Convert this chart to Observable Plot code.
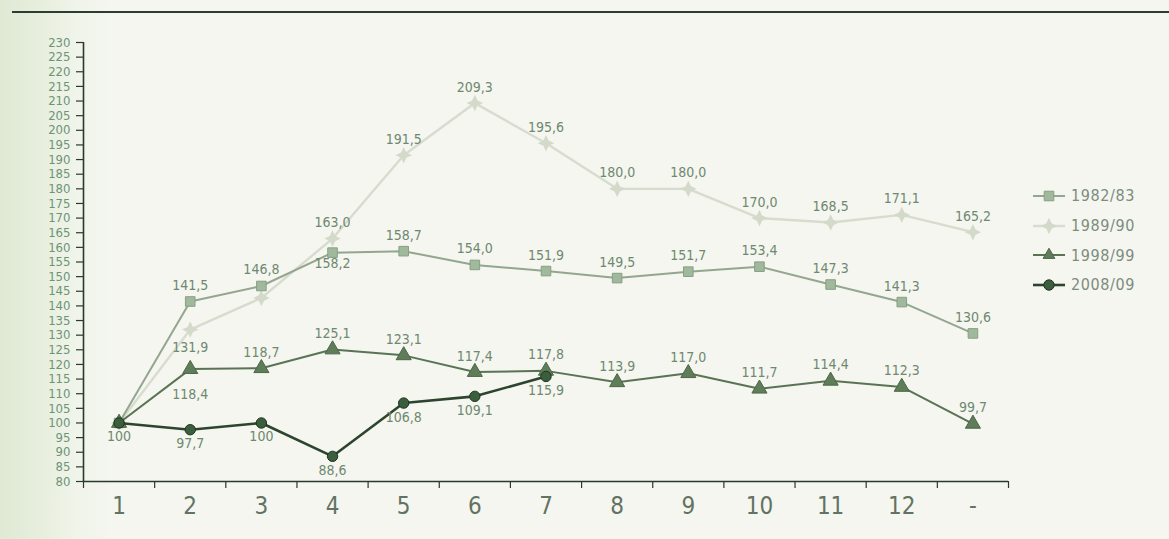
<!DOCTYPE html>
<html>
<head>
<meta charset="utf-8">
<script src="https://cdn.jsdelivr.net/npm/d3@7"></script>
<script src="https://cdn.jsdelivr.net/npm/@observablehq/plot@0.6"></script>
<style>
  html, body { margin: 0; padding: 0; }
  body {
    width: 1169px; height: 539px; overflow: hidden;
    background: linear-gradient(to right, #dfe9d3 0px, #e8efdf 45px, #f0f4e9 75px, #f4f6ef 110px, #f5f6f0 100%);
    font-family: "Liberation Sans Narrow", "DejaVu Sans Condensed", "Liberation Sans", sans-serif;
  }
  #wrap { position: relative; width: 1169px; height: 539px; }
  #topline { position: absolute; left: 12px; right: 0; top: 11px; height: 2px; background: #2f3c31; }
  #chart { position: absolute; left: 0; top: 0; }
  #legend { position: absolute; left: 1031px; top: 181px; }
  .item { display: flex; align-items: center; height: 29.7px; }
  .item span { font-size: 16px; letter-spacing: 0.6px; color: #7d8c7d; margin-left: 4px; }
</style>
</head>
<body>
<div id="wrap">
  <div id="topline"></div>
  <div id="chart"></div>
  <div id="legend"></div>
</div>
<script>
// ---- data ----
const categories = ["1", "2", "3", "4", "5", "6", "7", "8", "9", "10", "11", "12", "-"];
const seriesNames = ["1982/83", "1989/90", "1998/99", "2008/09"];
const values8283 = [100, 141.5, 146.8, 158.2, 158.7, 154.0, 151.9, 149.5, 151.7, 153.4, 147.3, 141.3, 130.6];
const values8990 = [100, 131.9, 142.7, 163.0, 191.5, 209.3, 195.6, 180.0, 180.0, 170.0, 168.5, 171.1, 165.2];
const values9899 = [100, 118.4, 118.7, 125.1, 123.1, 117.4, 117.8, 113.9, 117.0, 111.7, 114.4, 112.3, 99.7];
const values0809 = [100, 97.7, 100, 88.6, 106.8, 109.1, 115.9];
const labels8283 = [null, "141,5", "146,8", "158,2", "158,7", "154,0", "151,9", "149,5", "151,7", "153,4", "147,3", "141,3", "130,6"];
const labels8990 = [null, "131,9", null, "163,0", "191,5", "209,3", "195,6", "180,0", "180,0", "170,0", "168,5", "171,1", "165,2"];
const labels9899 = [null, "118,4", "118,7", "125,1", "123,1", "117,4", "117,8", "113,9", "117,0", "111,7", "114,4", "112,3", "99,7"];
const labels0809 = ["100", "97,7", "100", "88,6", "106,8", "109,1", "115,9"];
const yTicks = d3.range(80, 231, 5);

// ---- styling / placement ----
const allValues = [values8283, values8990, values9899, values0809];
const allLabels = [labels8283, labels8990, labels9899, labels0809];

const sparkle = {
  draw(ctx, size) {
    const r = Math.sqrt(size) * 0.62, q = r * 0.32;
    ctx.moveTo(0, -r); ctx.lineTo(q, -q); ctx.lineTo(r, 0); ctx.lineTo(q, q);
    ctx.lineTo(0, r); ctx.lineTo(-q, q); ctx.lineTo(-r, 0); ctx.lineTo(-q, -q); ctx.closePath();
  }
};
const styles = {
  "1982/83": {line: "#93a68f", lw: 2, symbol: "square", r: 5.4, fill: "#a0b99c", stroke: "#879f83"},
  "1989/90": {line: "#d7dccf", lw: 2.4, symbol: sparkle, r: 7.5, fill: "#d3dac9", stroke: "none"},
  "1998/99": {line: "#5a7355", lw: 2, symbol: "triangle", r: 5.6, fill: "#5f7d59", stroke: "#4c6647"},
  "2008/09": {line: "#2d452f", lw: 2.6, symbol: "circle", r: 5.2, fill: "#3b5e3c", stroke: "#1f3420"}
};
// labels placed below the point (others above); default offsets
const belowKeys = new Set(["1982/83|3", "1989/90|1", "1998/99|1"]);
const dyOverride = {"1998/99|1": 25, "1982/83|3": 11, "1989/90|1": 18};
const dark = "#2b382d";
const labelColor = "#6f8870";

const rows = [];
seriesNames.forEach((s, k) => {
  allValues[k].forEach((v, i) => rows.push({series: s, i, value: v, label: allLabels[k][i]}));
});

function dyFor(d) {
  const key = d.series + "|" + d.i;
  if (dyOverride[key] !== undefined) return dyOverride[key];
  if (d.series === "2008/09") return 14;
  return belowKeys.has(key) ? 15 : -16;
}
const labelled = rows.filter(d => d.label);
const dyGroups = d3.group(labelled, dyFor);

const marks = [
  Plot.axisY(yTicks, {label: null, tickSize: 7, stroke: dark, strokeWidth: 1.2, tickFormat: () => ""}),
  Plot.axisY(yTicks, {label: null, tickSize: 0, tickPadding: 13, fill: "#6c9479", fontSize: 13, letterSpacing: 0.3, tickFormat: d => String(d)}),
  Plot.axisX(d3.range(-0.5, categories.length), {label: null, tickSize: 7, stroke: dark, strokeWidth: 1.2, tickFormat: () => ""}),
  Plot.axisX(d3.range(categories.length), {label: null, tickSize: 0, tickPadding: 15, fill: "#627263", fontSize: 24, tickFormat: i => categories[i]}),
  Plot.ruleX([-0.5], {stroke: dark, strokeWidth: 1.6}),
  Plot.ruleY([80], {stroke: dark, strokeWidth: 1.6})
];
// draw lightest first
["1989/90", "1982/83", "1998/99", "2008/09"].forEach(s => {
  const st = styles[s];
  const data = rows.filter(d => d.series === s);
  marks.push(Plot.line(data, {x: "i", y: "value", stroke: st.line, strokeWidth: st.lw}));
  marks.push(Plot.dot(data, {x: "i", y: "value", symbol: () => st.symbol, r: st.r, fill: st.fill, stroke: st.stroke, strokeWidth: 1}));
});
for (const [dy, data] of dyGroups) {
  marks.push(Plot.text(data, {x: "i", y: "value", text: "label", dy, fill: labelColor, fontSize: 14, letterSpacing: 0.6}));
}

const chart = Plot.plot({
  width: 1169, height: 539,
  marginLeft: 83, marginRight: 161, marginTop: 42, marginBottom: 58,
  style: {background: "transparent", fontFamily: "'Liberation Sans Narrow', 'DejaVu Sans Condensed', sans-serif", overflow: "visible"},
  x: {type: "linear", domain: [-0.5, categories.length - 0.5], axis: null, label: null},
  y: {type: "linear", domain: [80, 230], axis: null, label: null},
  symbol: {type: "identity"},
  marks
});
document.getElementById("chart").appendChild(chart);

// ---- legend ----
const legend = d3.select("#legend");
seriesNames.forEach(s => {
  const st = styles[s];
  const item = legend.append("div").attr("class", "item");
  const svg = item.append("svg").attr("width", 36).attr("height", 16);
  svg.append("line").attr("x1", 2).attr("x2", 34).attr("y1", 8).attr("y2", 8)
    .attr("stroke", st.line).attr("stroke-width", st.lw);
  const symType = typeof st.symbol === "string"
    ? {square: d3.symbolSquare, triangle: d3.symbolTriangle2, circle: d3.symbolCircle}[st.symbol]
    : st.symbol;
  svg.append("path").attr("transform", "translate(18,8)")
    .attr("d", d3.symbol(symType, st.r * st.r * Math.PI)())
    .attr("fill", st.fill).attr("stroke", st.stroke);
  item.append("span").text(s);
});
</script>
</body>
</html>
